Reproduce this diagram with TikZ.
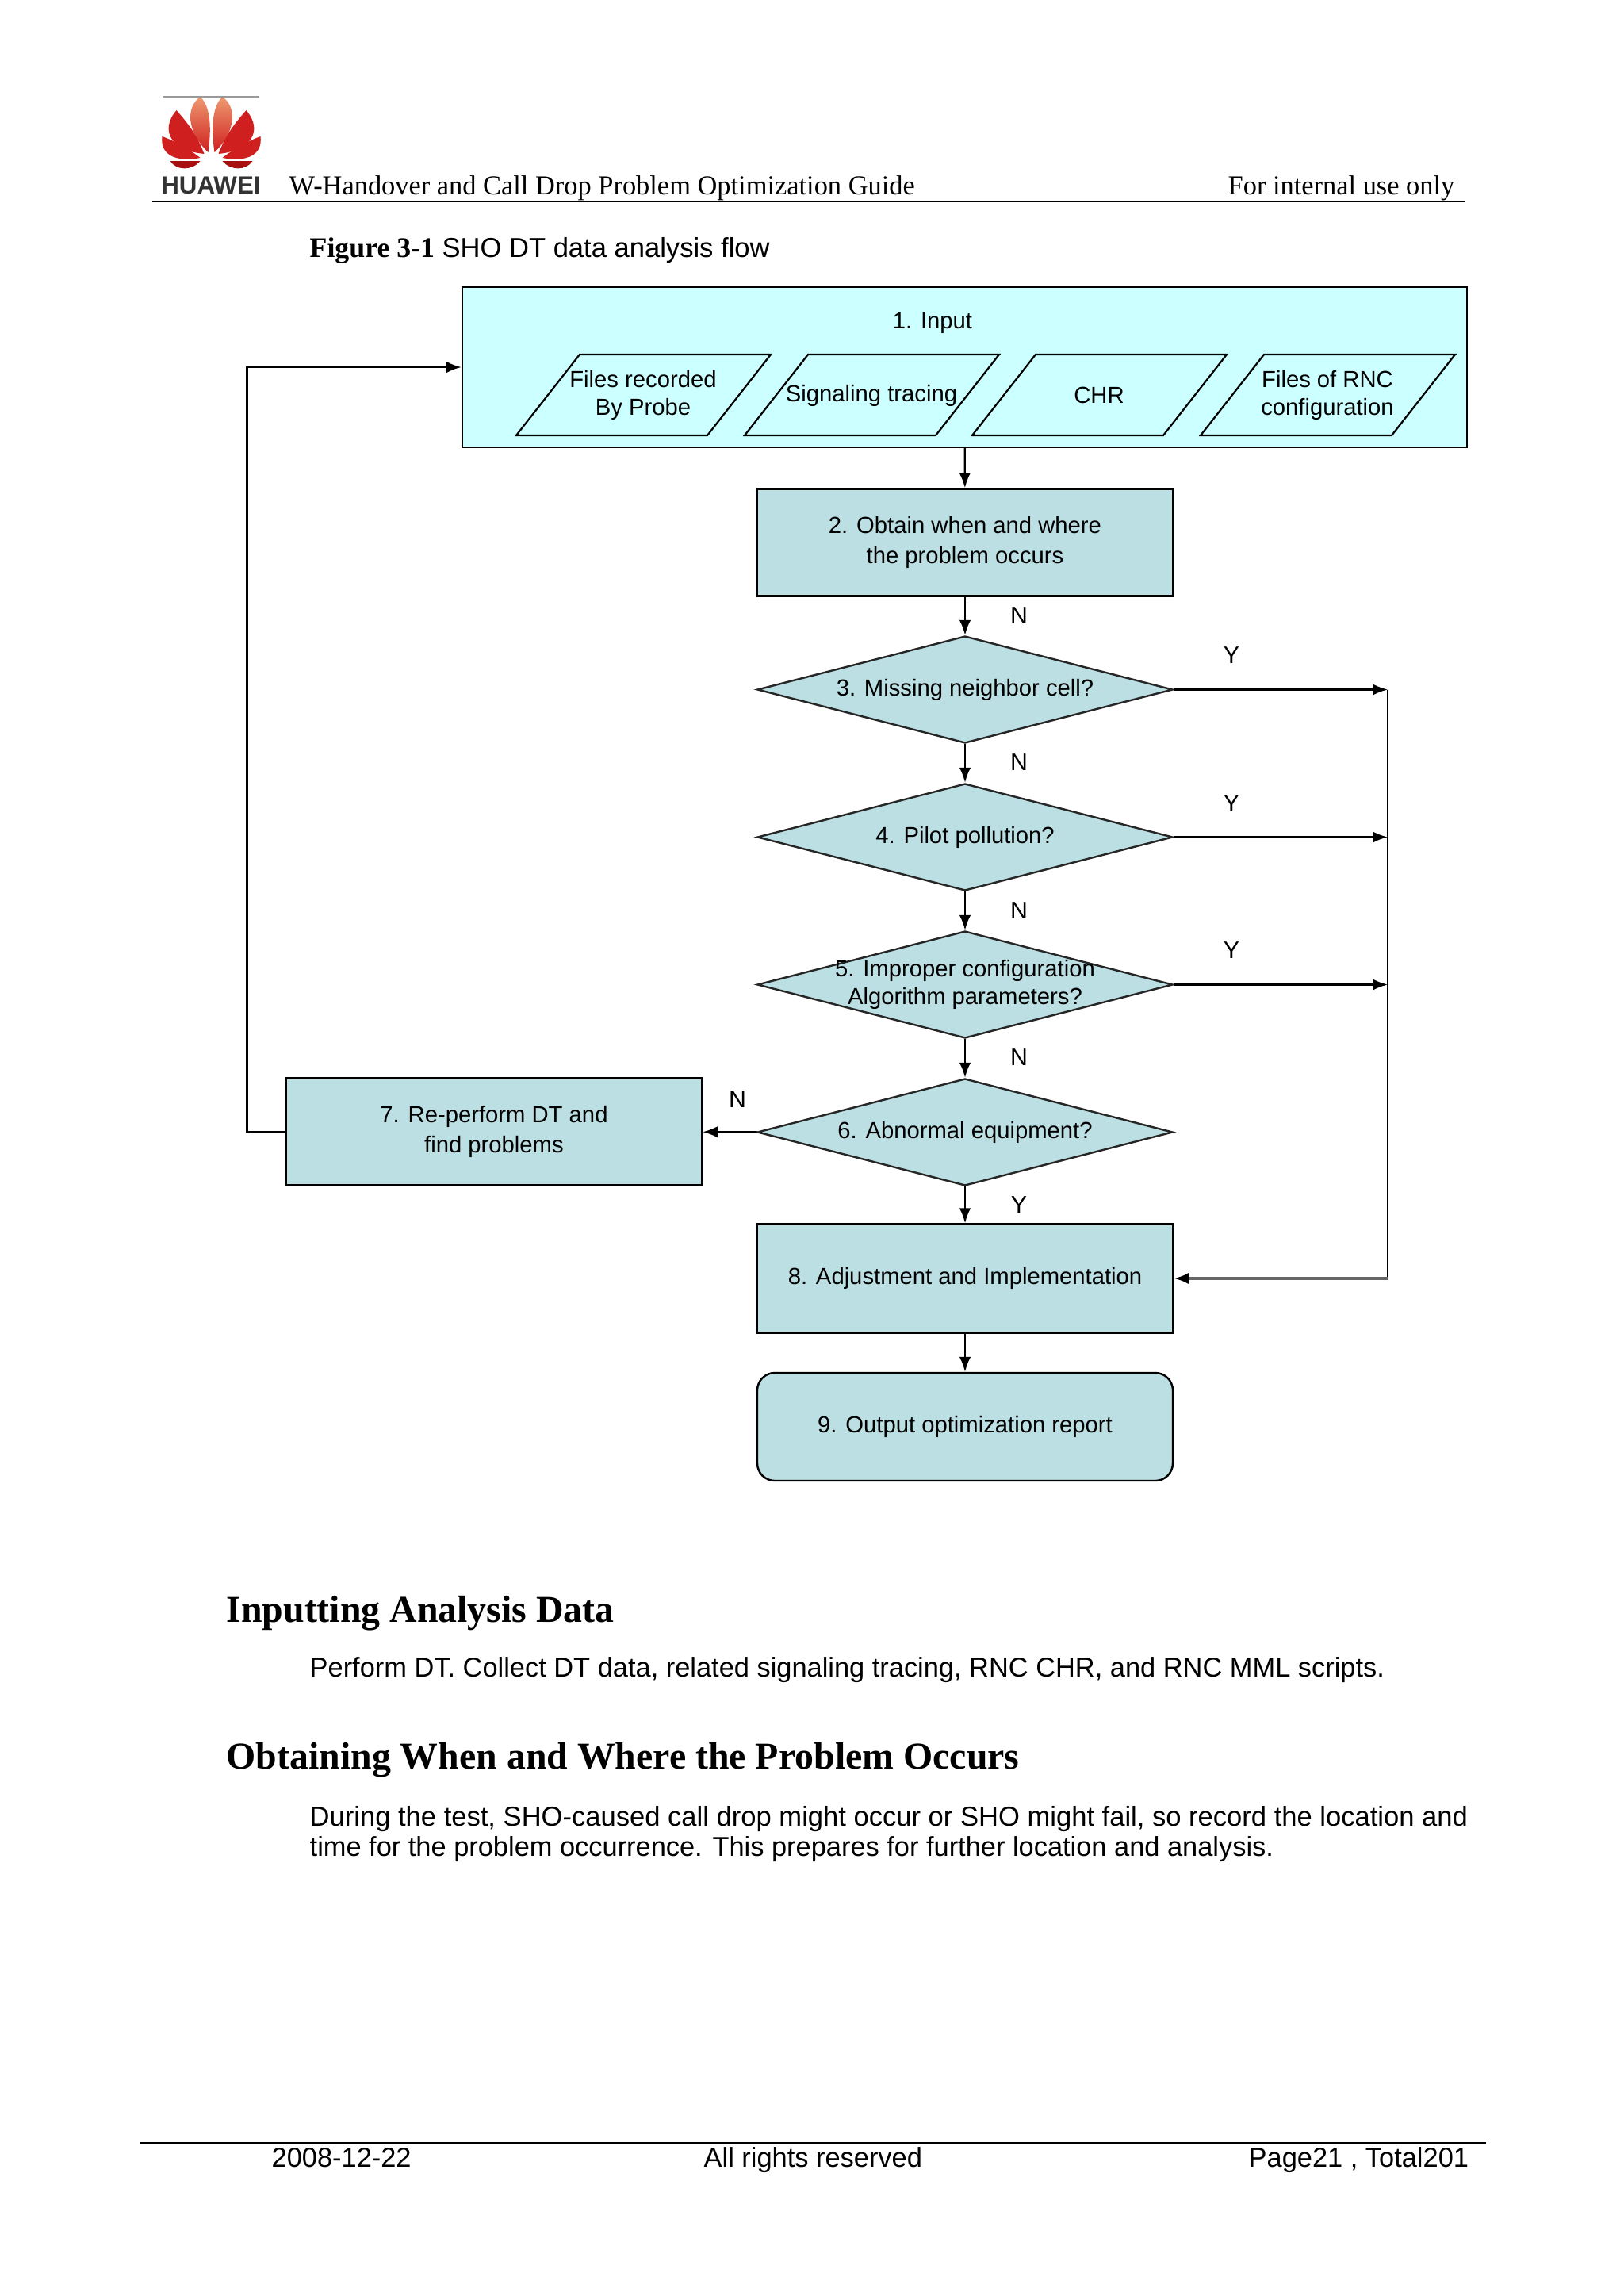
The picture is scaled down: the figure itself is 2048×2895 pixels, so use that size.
\documentclass[tikz,border=0pt]{standalone}
\usepackage{fontspec}
\setmainfont{Liberation Sans}
\newfontfamily\timesfont{Liberation Serif}
\usepackage{tikz}
\usetikzlibrary{arrows.meta,shapes,positioning,calc}
\usepackage{xcolor}

\definecolor{inputcyan}{HTML}{CCFFFF}
\definecolor{boxteal}{HTML}{BBDFE3}
\definecolor{logored}{HTML}{CF1F1F}
\definecolor{logodark}{HTML}{A81010}
\definecolor{logopale}{HTML}{EE9A70}
\def\px{0.2907pt}

\begin{document}
\begin{tikzpicture}[
    x=\px, y=-\px,
    chartline/.style={line width=0.65pt, black},
    chartarrow/.style={chartline, -{Latex[length=5.5pt,width=4.2pt]}},
    flowtext/.style={font=\fontsize{8.5}{11}\selectfont, text=black, align=center},
    stepbox/.style={rectangle, draw=black, line width=0.7pt, fill=boxteal, minimum width=524*\px, inner sep=0pt, flowtext},
    decisionbox/.style={diamond, draw=black!85, line width=0.7pt, fill=boxteal, aspect=3.89, inner sep=0pt, minimum width=524*\px, minimum height=135*\px},
    decisionlabel/.style={font=\fontsize{8.5}{10.2}\selectfont, text=black, align=center},
    paraline/.style={draw=black, line width=0.65pt, fill=inputcyan},
    paratext/.style={font=\fontsize{8.5}{10.2}\selectfont, text=black, align=center},
    answer/.style={font=\fontsize{8.8}{11}\selectfont, text=black, inner sep=0pt},
    pagetext/.style={font=\fontsize{10}{12}\selectfont, anchor=base west, inner sep=0pt},
    headtext/.style={font=\timesfont\fontsize{10}{12}\selectfont, anchor=base west, inner sep=0pt},
    headingtext/.style={font=\timesfont\bfseries\fontsize{13.9}{16}\selectfont, anchor=base west, inner sep=0pt}
]
    \useasboundingbox (0,0) rectangle (2048,2895);

    % logo
    \foreach \s in {1,-1} {
        \begin{scope}[shift={(266.5,0)}, xscale=\s]
            \shade[top color=logopale, bottom color=logored] (-14,122) .. controls (-32,135) and (-32,165) .. (-4,192) .. controls (0,165) and (0,135) .. cycle;
            \fill[logored] (-44,139) .. controls (-66,165) and (-50,190) .. (-9,194) .. controls (-18,170) and (-30,155) .. cycle;
            \fill[logored] (-62,172) .. controls (-65,195) and (-45,205) .. (-14,199) .. controls (-25,190) and (-45,178) .. cycle;
            \fill[logodark] (-52,203) .. controls (-44,215) and (-25,216) .. (-14,203) -- cycle;
        \end{scope}
    }
    \draw[black!40, line width=0.4pt] (205,122) -- (327,122);
    \node[font=\bfseries\fontsize{9.1}{10}\selectfont, text=black!80, anchor=base, inner sep=0pt] (brand) at (266,244) {HUAWEI};

    % header
    \node[headtext] (doctitle) at (364,245) {W-Handover and Call Drop Problem Optimization Guide};
    \node[headtext] (internal) at (1548,245) {For internal use only};
    \coordinate (headl) at (192,254);
    \coordinate (headr) at (1848,254);
    \draw[line width=0.6pt] (headl) -- (headr);
    \node[pagetext] (figcap) at (390,324) {{\timesfont\bfseries\fontsize{10.4}{12}\selectfont Figure 3-1} {\fontsize{10.05}{12}\selectfont SHO DT data analysis flow}};

    % input box
    \node[rectangle, draw=black, line width=0.7pt, fill=inputcyan, minimum width=1267*\px, minimum height=202*\px, inner sep=0pt] (input) at (1216.5,463) {};
    \node[flowtext] (inputlabel) at (1176,407) {1. Input};
    \foreach \c/\n/\t in {811/probe/{Files recorded\\By Probe}, 1099/signaling/{Signaling tracing}, 1386/chr/{CHR}, 1674/rncfiles/{Files of RNC\\configuration}} {
        \draw[paraline] (\c-160,549) -- (\c-80,447) -- (\c+161,447) -- (\c+81,549) -- cycle;
        \node[paratext] (\n) at (\c,498.5) {\t};
    }

    % main column
    \node[stepbox, minimum height=135*\px] (obtain) at (1217,684) {2. Obtain when and where\\the problem occurs};
    \node[decisionbox, label={[decisionlabel]center:3. Missing neighbor cell?}] (neighbor) at (1217,869.5) {};
    \node[decisionbox, label={[decisionlabel]center:4. Pilot pollution?}] (pilot) at (1217,1055.5) {};
    \node[decisionbox, label={[decisionlabel]center:5. Improper configuration\\Algorithm parameters?}] (config) at (1217,1241.5) {};
    \node[decisionbox, label={[decisionlabel]center:6. Abnormal equipment?}] (equip) at (1217,1427.5) {};
    \node[stepbox, minimum height=137*\px] (adjust) at (1217,1612) {8. Adjustment and Implementation};
    \node[stepbox, minimum height=136*\px, rounded corners=22*\px] (report) at (1217,1799) {9. Output optimization report};
    \node[stepbox, minimum height=135*\px] (reperform) at (623,1427) {7. Re-perform DT and\\find problems};

    % connectors
    \draw[chartarrow] (input) -- (obtain);
    \draw[chartarrow] (obtain) -- (neighbor);
    \draw[chartarrow] (neighbor) -- (pilot);
    \draw[chartarrow] (pilot) -- (config);
    \draw[chartarrow] (config) -- (equip);
    \draw[chartarrow] (equip) -- (adjust);
    \draw[chartarrow] (adjust) -- (report);
    \draw[chartarrow] (equip) -- (reperform);

    \coordinate (rail) at (1750,0);
    \coordinate (back) at (311.5,0);
    \draw[chartarrow] (neighbor.east) -- (neighbor.east -| rail);
    \draw[chartarrow] (pilot.east) -- (pilot.east -| rail);
    \draw[chartarrow] (config.east) -- (config.east -| rail);
    \draw[chartline] (neighbor.east -| rail) -- (adjust.east -| rail);
    \draw[line width=1.1pt, black!60, -{Latex[length=5.5pt,width=4.2pt,black]}] (adjust.east -| rail) -- (adjust.east);
    \draw[chartarrow] (reperform.west) -- (reperform.west -| back) -- (input.west -| back) -- (input.west);

    % Y and N labels
    \node[answer] (n1) at (1285,776) {N};
    \node[answer] (n2) at (1285,961) {N};
    \node[answer] (n3) at (1285,1148) {N};
    \node[answer] (n4) at (1285,1333) {N};
    \node[answer] (y4) at (1285,1519) {Y};
    \node[answer] (y1) at (1553,826) {Y};
    \node[answer] (y2) at (1553,1013) {Y};
    \node[answer] (y3) at (1553,1198) {Y};
    \node[answer] (n5) at (930,1386) {N};

    % text below the chart
    \node[headingtext] (head1) at (285,2045) {Inputting Analysis Data};
    \node[pagetext] (para1) at (390,2114) {Perform DT. Collect DT data, related signaling tracing, RNC CHR, and RNC MML scripts.};
    \node[headingtext] (head2) at (285,2230) {Obtaining When and Where the Problem Occurs};
    \node[pagetext] (para2a) at (390,2302) {\fontsize{10.05}{12}\selectfont During the test, SHO-caused call drop might occur or SHO might fail, so record the location and};
    \node[pagetext] (para2b) at (390,2340) {time for the problem occurrence. This prepares for further location and analysis.};

    % footer
    \coordinate (footl) at (176,2702);
    \coordinate (footr) at (1874,2702);
    \draw[line width=0.5pt] (footl) -- (footr);
    \node[pagetext] (footdate) at (342,2732) {2008-12-22};
    \node[pagetext] (footrights) at (887,2732) {All rights reserved};
    \node[pagetext] (footpage) at (1574,2732) {Page21 , Total201};
\end{tikzpicture}
\end{document}
